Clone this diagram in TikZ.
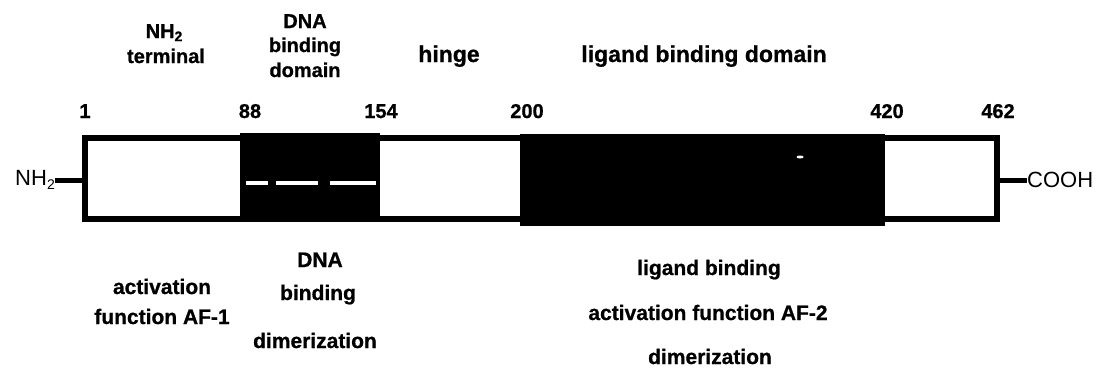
\documentclass[tikz,border=0pt]{standalone}
\usepackage{fontspec}
\setmainfont{Liberation Sans}[BoldFont={Liberation Sans Bold}, BoldFeatures={FakeBold=0.8}]
\newcommand{\subtwo}{\raisebox{-0.3ex}{\fontsize{14}{14}\selectfont 2}}
\begin{document}
\begin{tikzpicture}[x=1pt,y=-1pt,
  lbl/.style={font=\fontsize{21}{24}\selectfont\bfseries, inner sep=0pt, anchor=base},
  toplbl/.style={font=\fontsize{20}{24}\selectfont\bfseries, inner sep=0pt, anchor=base},
  bigtop/.style={font=\fontsize{23}{26}\selectfont\bfseries, inner sep=0pt, anchor=base},
  numlbl/.style={font=\fontsize{20}{24}\selectfont\bfseries, inner sep=0pt, anchor=base},
  endlbl/.style={font=\fontsize{22}{24}\selectfont, inner sep=0pt},
  border/.style={line width=6pt, line join=miter},
  stub/.style={line width=5pt},
  blackdom/.style={fill=black},
  speck/.style={white, line width=4pt}]
\useasboundingbox[fill=white] (0,0) rectangle (1110,376);

% domains
\fill[blackdom] (240,133) rectangle (380,222);
\fill[blackdom] (520,134) rectangle (885,226);
\draw[border] (85,138) rectangle (997,219);
\coordinate (bl) at (85,179);
\coordinate (br) at (997,180);

% scan specks
\draw[speck] (246,183) -- (268,183);
\draw[speck] (276,183) -- (318,183);
\draw[speck] (330,183) -- (376,183);
\fill[white] (800,157) ellipse (3.5 and 1.5);

% end labels
\node[endlbl, anchor=east] (nhl) at (55,180) {NH\subtwo};
\node[endlbl, anchor=west] (cooh) at (1027,180) {COOH};
\draw[stub] (nhl.east) -- (nhl.east -| bl);
\draw[stub] (br) -- (br -| cooh.west);

% numbers
\node[numlbl] (n1) at (85,118) {1};
\node[numlbl] (n88) at (250,118) {88};
\node[numlbl] (n154) at (381,118) {154};
\node[numlbl] (n200) at (527,118) {200};
\node[numlbl] (n420) at (887,118) {420};
\node[numlbl] (n462) at (998,118) {462};

% top labels
\node[toplbl] (tnh) at (164,38) {NH\subtwo};
\node[toplbl] (tterm) at (166,63) {terminal};
\node[toplbl] (tdna) at (305,28) {DNA};
\node[toplbl] (tbind) at (305,52) {binding};
\node[toplbl] (tdom) at (305,77) {domain};
\node[bigtop] (thinge) at (449,62) {hinge};
\node[bigtop] (tlbd) at (704,62) {ligand binding domain};

% bottom labels
\node[lbl] (bact) at (162,294) {activation};
\node[lbl] (bfun) at (162,324) {function AF-1};
\node[lbl] (bdna) at (320,267) {DNA};
\node[lbl] (bbind) at (318,300) {binding};
\node[lbl] (bdim) at (315,348) {dimerization};
\node[lbl] (blig) at (709,275) {ligand binding};
\node[lbl] (baf2) at (708,320) {activation function AF-2};
\node[lbl] (bdim2) at (710,364) {dimerization};
\end{tikzpicture}
\end{document}
